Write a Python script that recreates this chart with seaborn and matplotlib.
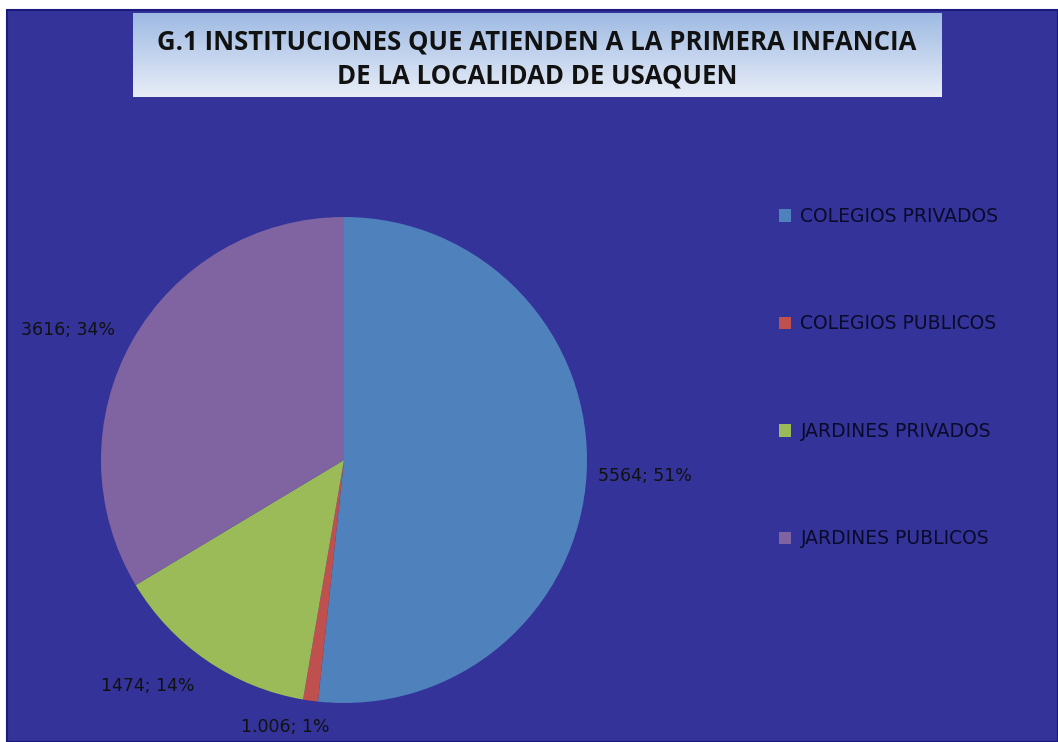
import numpy as np
import matplotlib
matplotlib.use("Agg")
import matplotlib.pyplot as plt
import seaborn as sns

# data
categories = ['COLEGIOS PRIVADOS', 'COLEGIOS PUBLICOS', 'JARDINES PRIVADOS', 'JARDINES PUBLICOS']
values = [5564, 106, 1474, 3616]
label_text = ['5564; 51%', '1.006; 1%', '1474; 14%', '3616; 34%']
colors = ['#4F81BD', '#C0504D', '#9BBB59', '#8064A2']

title = 'G.1 INSTITUCIONES QUE ATIENDEN A LA PRIMERA INFANCIA\nDE LA LOCALIDAD DE USAQUEN'

sns.set_style('white')
plt.rcParams['font.family'] = ['DejaVu Sans']

W, H = 1058, 742
fig = plt.figure(figsize=(W / 100, H / 100), dpi=100)
fig.patch.set_facecolor('white')
ax = fig.add_axes([0, 0, 1, 1])
ax.set_xlim(0, W)
ax.set_ylim(0, H)
ax.set_aspect('equal')
ax.axis('off')

# chart area
bg = plt.Rectangle((7, 0), W - 7, H - 10, facecolor='#333399', edgecolor='#1a1a80', lw=1.5, zorder=0)
ax.add_patch(bg)

# title box with gradient
grad = np.linspace(0, 1, 100).reshape(-1, 1)
top = np.array([0.62, 0.73, 0.89])
bot = np.array([0.91, 0.93, 0.97])
img = top + grad[..., None] * (bot - top)
ax.imshow(img, extent=(133, 942, H - 97, H - 13), aspect='auto', zorder=1)
ax.text(537, H - 59, title, ha='center', va='center', fontsize=18.5, fontweight='bold',
        family=['Open Sans', 'DejaVu Sans'], color='#111111', linespacing=1.35, zorder=2)

# pie
wedges, _ = ax.pie(values, colors=colors, startangle=90, counterclock=False,
                   center=(344, H - 460), radius=243, frame=True,
                   wedgeprops=dict(linewidth=0))
for w in wedges:
    w.set_zorder(2)
ax.set_xlim(0, W)
ax.set_ylim(0, H)
ax.axis('off')

# data labels
label_pos = [(645, 476), (285, 727), (148, 686), (68, 330)]
for (x, y), t in zip(label_pos, label_text):
    ax.text(x, H - y, t, ha='center', va='center', fontsize=12.5, color='#111111', zorder=3)

# legend
leg = ax.legend(wedges, categories, loc='upper left', bbox_to_anchor=(762 / W, 1 - 190 / H),
                frameon=False, fontsize=13.5, labelspacing=4.72, handlelength=0.65,
                handleheight=0.65, handletextpad=0.5)
for t in leg.get_texts():
    t.set_color('#0a0a2a')

fig.savefig('out.png', dpi=100)
